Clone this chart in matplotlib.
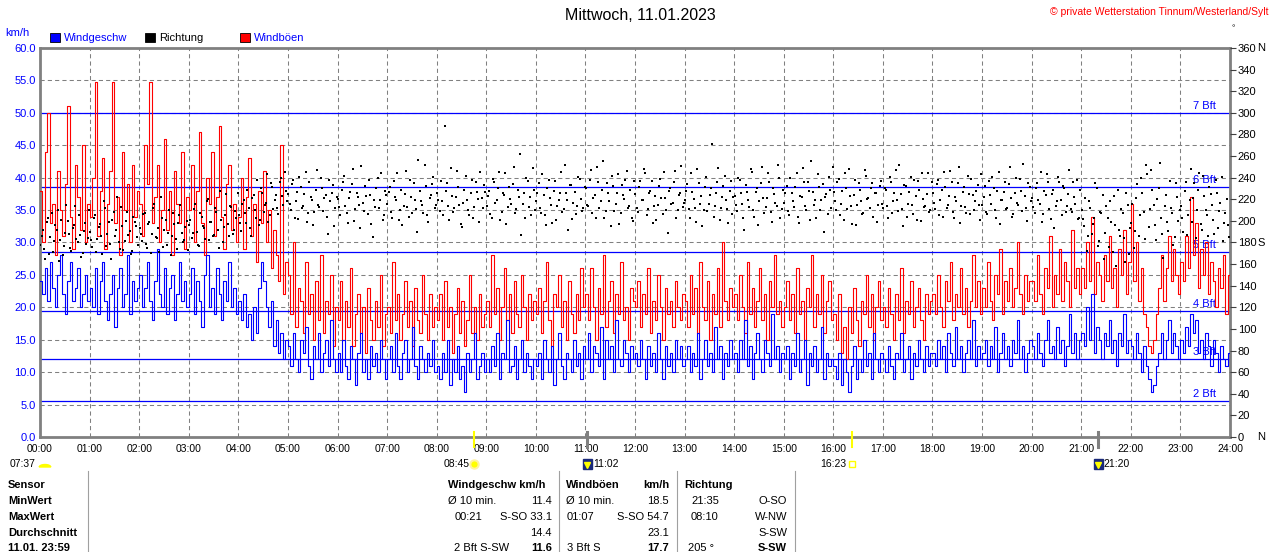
import numpy as np
import matplotlib
matplotlib.use('Agg')
import matplotlib.pyplot as plt
from matplotlib import transforms
from matplotlib.patches import Rectangle, Wedge
from matplotlib.lines import Line2D

plt.rcParams['font.family'] = ['Liberation Sans', 'DejaVu Sans']

# wind speed km/h, one value every 3 minutes (20 per hour), last value = 24:00
wind = [
    24, 22, 26, 21, 27, 23, 20, 25, 28, 22, 19, 24, 27, 21, 23, 26, 20, 22, 25, 21,
    23, 20, 26, 19, 24, 27, 21, 18, 22, 25, 17, 23, 26, 20, 22, 28, 19, 24, 21, 23,
    25, 20, 23, 27, 21, 18, 24, 29, 22, 20, 26, 19, 23, 25, 18, 22, 27, 21, 24, 20,
    22, 26, 19, 24, 21, 17, 25, 28, 20, 23, 19, 26, 22, 18, 24, 21, 27, 20, 23, 19,
    21, 18, 22, 17, 19, 15, 20, 16, 23, 27, 24, 20, 17, 21, 14, 18, 13, 16, 12, 15,
    14, 11, 16, 12, 10, 15, 13, 17, 11, 9, 14, 12, 16, 10, 13, 15, 11, 18, 12, 10,
    13, 10, 15, 11, 9, 14, 12, 8, 13, 16, 10, 12, 9, 14, 11, 13, 10, 15, 12, 9,
    12, 14, 10, 16, 11, 9, 13, 15, 10, 12, 17, 11, 9, 14, 12, 10, 13, 11, 15, 10,
    11, 9, 13, 10, 15, 8, 12, 10, 14, 9, 11, 7, 13, 10, 12, 16, 9, 11, 13, 10,
    12, 10, 14, 11, 16, 9, 13, 12, 18, 10, 11, 14, 9, 12, 15, 10, 13, 11, 9, 12,
    11, 13, 9, 15, 12, 10, 14, 8, 12, 16, 11, 9, 13, 12, 10, 15, 11, 13, 9, 14,
    12, 16, 10, 14, 13, 11, 17, 9, 15, 12, 14, 10, 18, 12, 11, 15, 13, 10, 14, 12,
    13, 11, 15, 12, 9, 14, 11, 13, 10, 16, 12, 9, 14, 11, 13, 10, 15, 12, 14, 11,
    12, 14, 10, 13, 11, 16, 9, 12, 15, 11, 13, 10, 17, 12, 14, 9, 13, 11, 15, 12,
    13, 10, 15, 12, 18, 11, 14, 9, 13, 16, 12, 10, 15, 13, 11, 19, 12, 14, 10, 13,
    12, 14, 9, 13, 11, 16, 10, 12, 15, 8, 13, 11, 14, 10, 12, 17, 9, 13, 11, 12,
    11, 9, 13, 8, 12, 10, 7, 11, 14, 9, 12, 10, 15, 11, 13, 9, 16, 12, 10, 13,
    12, 10, 14, 11, 9, 13, 12, 16, 10, 12, 14, 9, 13, 11, 15, 12, 10, 14, 11, 13,
    13, 11, 15, 12, 14, 10, 16, 13, 11, 17, 12, 14, 10, 13, 15, 12, 18, 11, 14, 12,
    13, 15, 11, 14, 12, 17, 10, 13, 16, 12, 14, 11, 15, 13, 18, 12, 14, 10, 13, 15,
    14, 12, 16, 13, 11, 15, 18, 13, 14, 12, 17, 13, 15, 11, 14, 19, 13, 16, 12, 15,
    16, 14, 20, 15, 22, 13, 17, 15, 12, 16, 14, 18, 13, 15, 11, 16, 14, 19, 13, 15,
    14, 12, 16, 13, 10, 14, 11, 9, 7, 8, 11, 13, 16, 12, 15, 18, 13, 16, 14, 12,
    15, 13, 17, 14, 19, 16, 18, 13, 15, 12, 16, 14, 11, 15, 13, 10, 14, 12, 11, 13,
    12,
]

# gusts km/h, same 3-minute grid
gust = [
    38, 30, 44, 50, 33, 36, 28, 41, 35, 31, 39, 51, 34, 29, 42, 37, 32, 45, 30, 36,
    34, 40, 54.7, 31, 38, 43, 29, 36, 41, 54.7, 33, 37, 28, 44, 35, 39, 30, 42, 34, 38,
    36, 31, 45, 39, 54.7, 33, 37, 42, 30, 35, 46, 32, 38, 28, 41, 36, 33, 44, 29, 37,
    35, 42, 30, 38, 47, 33, 28, 40, 36, 44, 31, 37, 48, 34, 29, 39, 42, 32, 36, 30,
    34, 40, 29, 37, 43, 31, 36, 27, 38, 33, 41, 30, 35, 26, 32, 28, 24, 45, 22, 27,
    25, 19, 30, 17, 23, 21, 16, 27, 19, 22, 15, 24, 18, 28, 16, 21, 19, 25, 14, 20,
    18, 24, 15, 21, 17, 26, 14, 19, 22, 16, 20, 13, 23, 18, 15, 21, 17, 25, 14, 19,
    20, 16, 27, 18, 22, 15, 19, 24, 17, 21, 14, 23, 18, 16, 25, 19, 15, 22, 17, 20,
    18, 22, 15, 24, 17, 20, 13, 19, 23, 16, 21, 14, 18, 25, 16, 20, 15, 22, 17, 19,
    21, 17, 28, 19, 23, 15, 20, 26, 18, 22, 16, 24, 19, 17, 25, 20, 15, 22, 18, 21,
    19, 23, 16, 21, 27, 18, 14, 22, 20, 25, 17, 21, 15, 24, 19, 16, 22, 18, 26, 20,
    22, 18, 26, 20, 15, 23, 19, 28, 17, 21, 24, 16, 22, 19, 27, 18, 20, 15, 23, 21,
    20, 24, 17, 22, 19, 26, 16, 21, 18, 25, 20, 15, 23, 19, 21, 17, 24, 20, 18, 22,
    21, 17, 25, 19, 23, 16, 27, 20, 18, 24, 15, 22, 19, 26, 17, 30, 21, 18, 23, 20,
    22, 18, 25, 20, 16, 27, 19, 23, 17, 21, 26, 18, 22, 15, 24, 20, 28, 19, 21, 17,
    20, 24, 18, 22, 16, 26, 19, 21, 15, 23, 20, 28, 17, 22, 19, 25, 16, 21, 24, 18,
    19, 15, 22, 13, 17, 12, 20, 16, 23, 18, 14, 21, 19, 25, 17, 22, 15, 20, 24, 18,
    20, 17, 23, 19, 15, 22, 18, 26, 16, 21, 19, 24, 17, 20, 23, 18, 15, 22, 19, 21,
    22, 19, 25, 20, 17, 24, 21, 27, 18, 22, 20, 26, 19, 23, 17, 21, 28, 20, 24, 19,
    23, 20, 27, 21, 18, 25, 22, 29, 19, 24, 21, 26, 20, 23, 30, 22, 19, 25, 21, 24,
    24, 21, 28, 22, 19, 26, 23, 31, 20, 25, 22, 29, 21, 27, 24, 20, 32, 23, 26, 22,
    26, 23, 30, 24, 34, 22, 27, 25, 21, 28, 24, 31, 23, 26, 20, 29, 25, 32, 22, 27,
    36, 24, 30, 21, 26, 19, 17, 14, 13, 15, 19, 23, 28, 21, 26, 31, 24, 29, 25, 22,
    27, 24, 31, 26, 37, 28, 33, 23, 29, 25, 30, 22, 27, 24, 20, 26, 23, 28, 19, 25,
    24,
]

# wind direction in degrees, 3-minute grid (readings at :00.5)
direction = [
    178, 192, 165, 203, 185, 171, 196, 210, 182, 168, 189, 200, 175, 193, 214, 180, 187, 170, 198, 184,
    190, 176, 205, 183, 197, 169, 212, 188, 179, 201, 186, 222, 174, 195, 181, 208, 191, 172, 199, 185,
    193, 181, 207, 175, 199, 188, 216, 184, 171, 203, 192, 178, 210, 186, 197, 174, 205, 189, 182, 200,
    196, 184, 211, 190, 177, 204, 193, 218, 182, 199, 187, 208, 175, 201, 194, 225, 186, 213, 192, 203,
    205, 191, 219, 198, 212, 186, 224, 203, 196, 230, 208, 217, 199, 235, 211, 224, 206, 240, 215, 228,
    225, 210, 238, 218, 202, 231, 214, 245, 207, 222, 196, 229, 215, 240, 209, 224, 188, 218, 233, 212,
    220, 205, 236, 214, 198, 227, 248, 211, 222, 193, 217, 232, 206, 224, 185, 213, 240, 219, 201, 228,
    216, 231, 203, 222, 244, 210, 196, 225, 213, 238, 207, 219, 190, 228, 215, 252, 205, 221, 234, 212,
    226, 209, 218, 288, 235, 201, 223, 212, 246, 215, 194, 229, 219, 205, 238, 213, 227, 199, 221, 233,
    214, 228, 203, 236, 219, 245, 208, 224, 197, 231, 216, 250, 211, 222, 187, 226, 240, 213, 205, 229,
    218, 235, 207, 224, 196, 238, 215, 228, 201, 219, 245, 211, 226, 192, 233, 217, 206, 241, 220, 212,
    230, 214, 247, 221, 203, 236, 218, 255, 209, 226, 195, 232, 216, 243, 207, 224, 238, 212, 229, 200,
    225, 208, 237, 219, 244, 211, 228, 198, 223, 215, 239, 206, 221, 189, 230, 217, 246, 210, 226, 213,
    219, 234, 203, 227, 212, 248, 216, 195, 231, 209, 224, 271, 214, 236, 201, 222, 242, 211, 228, 206,
    223, 209, 238, 216, 192, 227, 213, 245, 204, 230, 218, 250, 207, 221, 236, 199, 225, 214, 240, 211,
    217, 232, 205, 226, 213, 244, 198, 222, 236, 210, 228, 255, 215, 203, 231, 219, 190, 225, 241, 212,
    227, 210, 239, 216, 201, 230, 248, 214, 224, 196, 235, 218, 207, 242, 221, 230, 204, 226, 215, 237,
    212, 229, 203, 236, 218, 247, 209, 225, 195, 232, 216, 241, 206, 223, 237, 200, 220, 214, 244, 210,
    226, 211, 238, 219, 204, 231, 215, 246, 208, 222, 235, 198, 227, 213, 242, 206, 224, 218, 233, 201,
    215, 232, 206, 224, 241, 210, 228, 197, 219, 236, 212, 250, 204, 226, 217, 239, 209, 223, 200, 231,
    221, 207, 235, 216, 199, 228, 243, 211, 225, 193, 218, 236, 205, 230, 214, 247, 208, 222, 238, 203,
    210, 195, 172, 218, 188, 203, 230, 181, 207, 165, 214, 176, 199, 223, 158, 192, 211, 184, 226, 169,
    198, 175, 221, 186, 240, 208, 252, 194, 247, 215, 182, 230, 203, 166, 224, 191, 212, 178, 235, 200,
    214, 190, 236, 205, 248, 221, 184, 229, 197, 242, 210, 186, 225, 201, 238, 193, 217, 181, 207, 196,
]

# wind direction in degrees, 3-minute grid (readings at :02)
direction_b = [
    186, 174, 199, 169, 207, 181, 192, 163, 201, 177, 215, 188, 172, 196, 183, 205, 167, 191, 179, 210,
    182, 203, 171, 194, 186, 218, 177, 199, 165, 208, 192, 180, 213, 173, 200, 187, 169, 204, 195, 178,
    188, 206, 179, 197, 170, 212, 185, 193, 222, 176, 201, 189, 168, 207, 183, 198, 215, 180, 194, 173,
    201, 189, 216, 178, 207, 195, 183, 220, 199, 186, 212, 192, 228, 180, 205, 197, 214, 188, 209, 226,
    198, 216, 207, 229, 193, 221, 210, 238, 201, 226, 215, 243, 205, 231, 219, 212, 236, 223, 245, 218,
    216, 234, 203, 227, 241, 212, 225, 199, 236, 219, 208, 247, 213, 230, 221, 204, 238, 226, 195, 222,
    213, 229, 242, 207, 221, 234, 200, 226, 215, 251, 209, 223, 238, 197, 219, 230, 212, 244, 205, 224,
    227, 208, 237, 219, 201, 229, 214, 246, 204, 222, 235, 211, 256, 218, 207, 232, 199, 224, 241, 215,
    219, 237, 205, 228, 214, 249, 208, 222, 231, 197, 217, 242, 210, 226, 203, 236, 220, 245, 212, 227,
    223, 206, 239, 217, 230, 201, 226, 244, 213, 220, 234, 207, 229, 262, 216, 203, 237, 222, 249, 210,
    226, 212, 243, 205, 230, 221, 198, 237, 214, 226, 208, 252, 219, 233, 202, 227, 214, 239, 209, 231,
    215, 238, 207, 224, 250, 212, 229, 203, 235, 218, 242, 209, 226, 197, 233, 220, 246, 214, 203, 237,
    212, 231, 219, 248, 205, 226, 237, 214, 201, 232, 221, 245, 210, 228, 216, 236, 203, 224, 251, 217,
    228, 211, 244, 220, 199, 235, 223, 210, 241, 216, 230, 204, 226, 249, 212, 232, 219, 198, 237, 222,
    215, 240, 226, 203, 233, 219, 248, 210, 227, 196, 235, 221, 213, 244, 208, 230, 217, 252, 203, 229,
    226, 209, 240, 218, 231, 204, 223, 249, 214, 236, 201, 227, 219, 243, 210, 234, 222, 206, 229, 250,
    218, 236, 205, 228, 244, 211, 223, 197, 238, 215, 229, 206, 247, 220, 212, 235, 226, 199, 232, 216,
    230, 214, 241, 207, 226, 219, 252, 211, 233, 204, 227, 215, 238, 201, 229, 244, 213, 225, 208, 236,
    217, 234, 205, 229, 245, 212, 223, 236, 203, 218, 250, 214, 231, 207, 225, 239, 210, 228, 215, 243,
    222, 208, 237, 216, 230, 203, 245, 219, 227, 211, 234, 221, 206, 240, 215, 228, 253, 212, 235, 218,
    213, 230, 219, 245, 206, 224, 236, 202, 229, 214, 241, 219, 232, 208, 225, 211, 236, 216, 202, 229,
    202, 221, 186, 212, 197, 235, 177, 208, 224, 189, 203, 218, 171, 196, 229, 186, 207, 162, 215, 193,
    216, 191, 234, 205, 226, 183, 243, 211, 229, 196, 220, 254, 188, 214, 199, 237, 207, 185, 222, 210,
    203, 228, 187, 219, 199, 235, 210, 244, 192, 223, 205, 231, 215, 188, 226, 209, 241, 198, 220, 185,
]

bft_levels = [5.5, 12.0, 19.5, 28.6, 38.6, 50.0]
bft_names = ['2 Bft', '3 Bft', '4 Bft', '5 Bft', '6 Bft', '7 Bft']

hour_ticks = list(range(25))
hour_labels = ['%02d:00' % h for h in hour_ticks]
speed_ticks = np.arange(0, 61, 5)
dir_ticks = np.arange(0, 361, 20)

sun_times = [8 + 45 / 60, 16 + 23 / 60]   # sunrise, sunset
moon_times = [11 + 2 / 60, 21 + 20 / 60]

W, H = 1280, 552
fig = plt.figure(figsize=(W / 100, H / 100), dpi=100)
fig.patch.set_facecolor('white')


def fx(x):
    return x / W


def fy(y):
    return 1 - y / H


def hx(h):
    return 40 + 1190 * h / 24


ax = fig.add_axes([fx(40), fy(437), 1190 / W, 389 / H])
ax.set_xlim(0, 24)
ax.set_ylim(0, 60)

grey = '#808080'
for s in ax.spines.values():
    s.set_color(grey)
    s.set_linewidth(2)

ax.set_xticks(hour_ticks)
ax.set_xticklabels(hour_labels)
ax.set_yticks(speed_ticks)
ax.set_yticklabels(['%.1f' % v for v in speed_ticks])
ax.tick_params(axis='x', length=0, pad=5, labelsize=7.5)
ax.tick_params(axis='y', length=0, pad=3, labelsize=8, labelcolor='#0000ff')
ax.grid(True, color=grey, ls=(0, (4, 3)), lw=0.75, zorder=0)
ax.set_axisbelow(True)

# Beaufort lines
btrans = transforms.blended_transform_factory(ax.transAxes, ax.transData)
for lev, name in zip(bft_levels, bft_names):
    ax.axhline(lev, color='#0000ff', lw=0.9, zorder=2)
    ax.text(0.988, lev + 0.3, name, transform=btrans, ha='right', va='bottom',
            color='#0000ff', fontsize=8, zorder=2)

t = np.arange(len(wind)) * 3 / 60
ax.step(t, gust, where='post', color='#ff0000', lw=0.8, zorder=3)
ax.step(t, wind, where='post', color='#0000ff', lw=0.8, zorder=4)

# direction axis
ax2 = ax.twinx()
ax2.set_ylim(0, 360)
ax2.set_yticks(dir_ticks)
ax2.set_yticklabels([str(v) for v in dir_ticks])
ax2.tick_params(axis='y', length=4, width=0.8, color='#404040', pad=1.5, labelsize=8)
for s in ax2.spines.values():
    s.set_visible(False)
td = np.arange(len(direction)) * 3 / 60
ax2.scatter(td + 0.5 / 60, direction, marker='s', s=3.6, color='black', linewidths=0, zorder=5)
ax2.scatter(td + 2 / 60, direction_b, marker='s', s=3.6, color='black', linewidths=0, zorder=5)
for v, lab in [(360, 'N'), (180, 'S'), (0, 'N')]:
    fig.text(fx(1257), fy(437 - 389 * v / 360), lab, fontsize=8, va='center', ha='left')

# sun / moon marks on the time axis
for h in sun_times:
    ax.plot([h, h], [-1.5, 0.8], color='#ffff00', lw=1.5, clip_on=False, zorder=6)
for h in moon_times:
    ax.plot([h, h], [-1.5, 0.8], color=grey, lw=2.2, clip_on=False, zorder=6)

ev_y = fy(464)
fig.text(fx(10), ev_y, '07:37', fontsize=7.5, va='center')
fig.add_artist(Wedge((fx(45), fy(467)), 0.0045, 0, 180, color='#ffff00',
                     transform=fig.transFigure))
fig.text(fx(hx(sun_times[0]) - 4), ev_y, '08:45', fontsize=7.5, va='center', ha='right')
fig.add_artist(Line2D([fx(hx(sun_times[0]))], [ev_y], marker='o', ms=6, mfc='#ffff00',
                      mec='#fff2a0', mew=1.5, transform=fig.transFigure))
fig.text(fx(hx(sun_times[1]) - 6), ev_y, '16:23', fontsize=7.5, va='center', ha='right')
fig.add_artist(Line2D([fx(hx(sun_times[1]))], [ev_y], marker='s', ms=4, mfc='white',
                      mec='#ffff00', mew=1, transform=fig.transFigure))
for h, lab in zip(moon_times, ['11:02', '21:20']):
    xm = hx(h)
    fig.add_artist(Rectangle((fx(xm - 4), fy(469)), 9 / W, 10 / H, color='#1a2a7a',
                             transform=fig.transFigure))
    fig.add_artist(Line2D([fx(xm)], [fy(465)], marker='v', ms=4, mfc='#ffff00', mec='#ffff00',
                          transform=fig.transFigure))
    fig.text(fx(xm + 6), ev_y, lab, fontsize=7.5, va='center')

# header texts
fig.text(0.5, fy(15), 'Mittwoch, 11.01.2023', ha='center', va='center', fontsize=11.5)
fig.text(fx(1268), fy(12), '\u00a9 private Wetterstation Tinnum/Westerland/Sylt', ha='right',
         va='center', fontsize=7.5, color='#ff0000')
fig.text(fx(5), fy(33), 'km/h', fontsize=8, color='#0000ff', va='center')
fig.text(fx(1231), fy(29), '\u00b0', fontsize=6, va='center')

legend = [(50, '#0000ff', 'Windgeschw', '#0000ff'),
          (145, '#000000', 'Richtung', '#000000'),
          (240, '#ff0000', 'Windböen', '#0000ff')]
for x0, c, lab, tc in legend:
    fig.add_artist(Rectangle((fx(x0), fy(42)), 10 / W, 9 / H, facecolor=c, edgecolor='black',
                             lw=0.6, transform=fig.transFigure))
    fig.text(fx(x0 + 14), fy(38), lab, fontsize=8, color=tc, va='center')

# statistics table
for xl in [88, 559, 677, 795]:
    fig.add_artist(Line2D([fx(xl), fx(xl)], [fy(471), 0], color='#a0a0a0', lw=0.8,
                          transform=fig.transFigure))
rows_y = [485, 501, 517, 533, 548]
row_names = ['Sensor', 'MinWert', 'MaxWert', 'Durchschnitt', '11.01. 23:59']
for y, name in zip(rows_y, row_names):
    fig.text(fx(8), fy(y), name, fontsize=8, fontweight='bold', va='center')

cells = [
    (448, 0, 'Windgeschw km/h', 'left', True),
    (566, 0, 'Windböen', 'left', True),
    (669, 0, 'km/h', 'right', True),
    (684, 0, 'Richtung', 'left', True),
    (448, 1, 'Ø 10 min.', 'left', False),
    (552, 1, '11.4', 'right', False),
    (566, 1, 'Ø 10 min.', 'left', False),
    (669, 1, '18.5', 'right', False),
    (691, 1, '21:35', 'left', False),
    (787, 1, 'O-SO', 'right', False),
    (455, 2, '00:21', 'left', False),
    (552, 2, 'S-SO 33.1', 'right', False),
    (567, 2, '01:07', 'left', False),
    (669, 2, 'S-SO 54.7', 'right', False),
    (691, 2, '08:10', 'left', False),
    (787, 2, 'W-NW', 'right', False),
    (552, 3, '14.4', 'right', False),
    (669, 3, '23.1', 'right', False),
    (787, 3, 'S-SW', 'right', False),
    (454, 4, '2 Bft S-SW', 'left', False),
    (552, 4, '11.6', 'right', True),
    (567, 4, '3 Bft S', 'left', False),
    (669, 4, '17.7', 'right', True),
    (688, 4, '205 °', 'left', False),
    (787, 4, 'S-SW', 'right', True),
]
for x, r, s, ha, bold in cells:
    fig.text(fx(x), fy(rows_y[r]), s, fontsize=8, ha=ha, va='center',
             fontweight='bold' if bold else 'normal')

fig.savefig('out.png', dpi=100)
